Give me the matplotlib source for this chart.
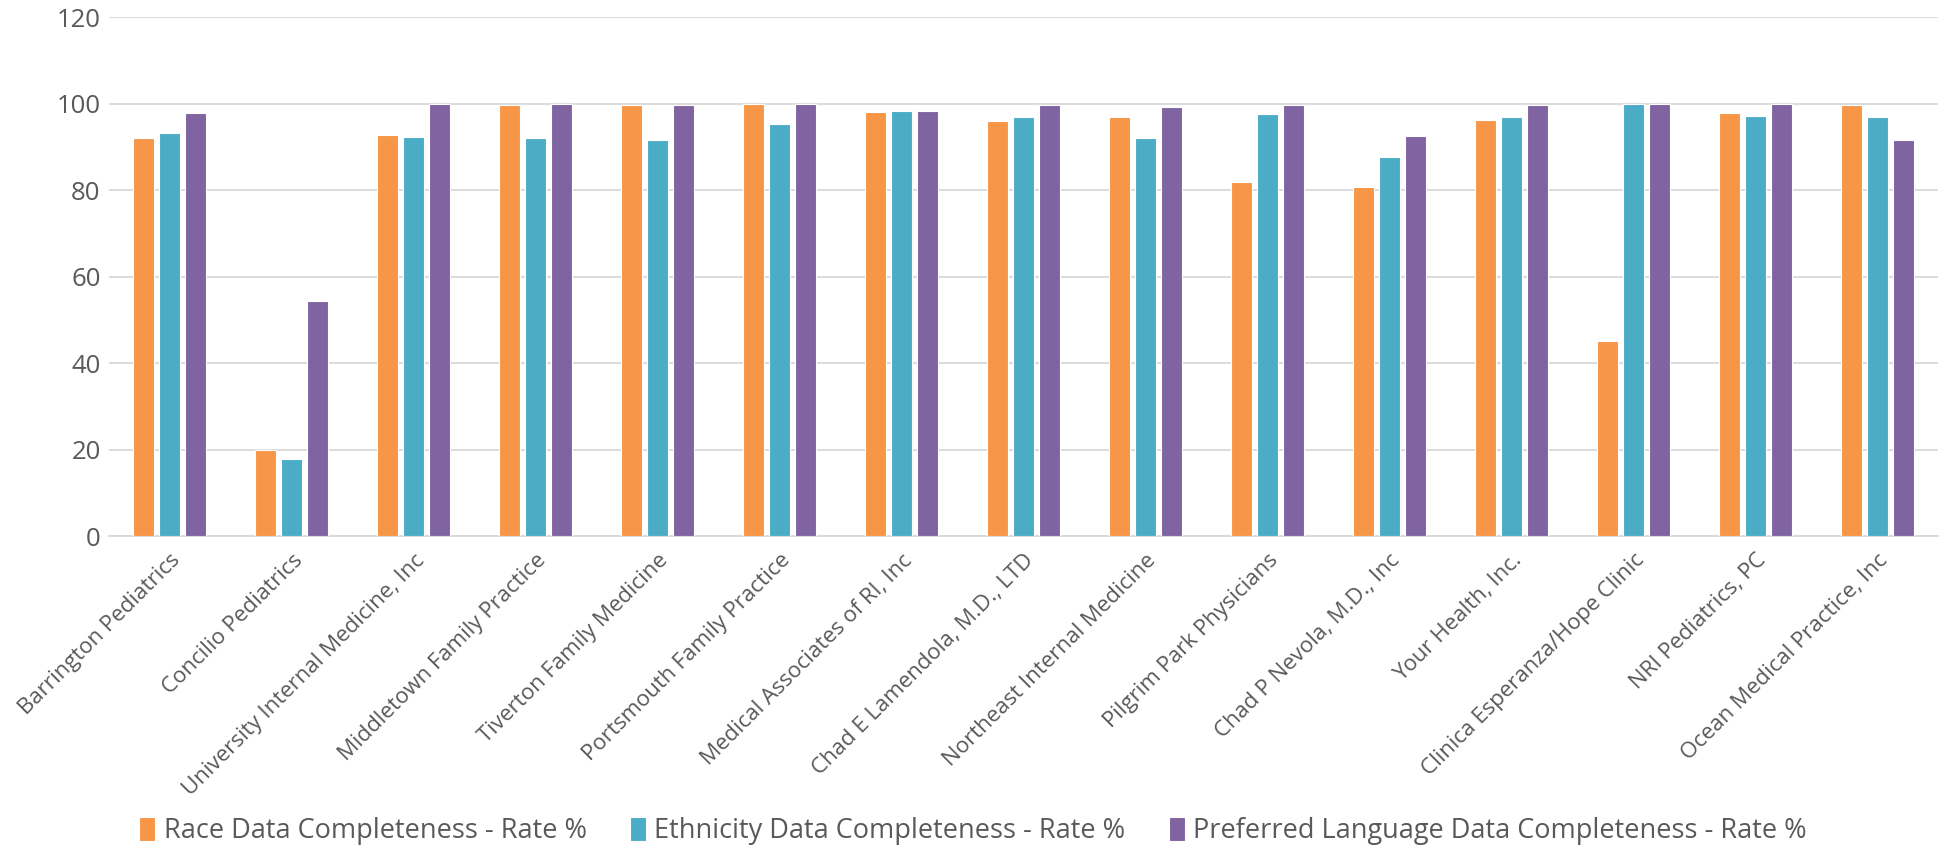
import numpy as np
import matplotlib.pyplot as plt

# practices (x axis)
practices = ["Barrington Pediatrics", "Concilio Pediatrics", "University Internal Medicine, Inc",
             "Middletown Family Practice", "Tiverton Family Medicine", "Portsmouth Family Practice",
             "Medical Associates of RI, Inc", "Chad E Lamendola, M.D., LTD", "Northeast Internal Medicine",
             "Pilgrim Park Physicians", "Chad P Nevola, M.D., Inc", "Your Health, Inc.",
             "Clinica Esperanza/Hope Clinic", "NRI Pediatrics, PC", "Ocean Medical Practice, Inc"]

race = [92.0, 19.8, 92.7, 99.8, 99.8, 100, 98.1, 96.1, 96.8, 81.9, 80.7, 96.3, 45.2, 97.9, 99.8]
ethnicity = [93.1, 17.8, 92.2, 92.0, 91.7, 95.4, 98.2, 97.0, 92.0, 97.6, 87.7, 96.9, 100, 97.2, 96.9]
language = [97.9, 54.4, 100, 100, 99.6, 100, 98.2, 99.8, 99.2, 99.6, 92.5, 99.8, 100, 100, 91.7]

series_names = ["Race Data Completeness - Rate %",
                "Ethnicity Data Completeness - Rate %",
                "Preferred Language Data Completeness - Rate %"]
colors = ["#F79646", "#4BACC6", "#8064A2"]

plt.rcParams['font.family'] = ['Open Sans', 'DejaVu Sans']
txt = "#595959"

fig = plt.figure(figsize=(19.46, 8.59), dpi=100)
ax = fig.add_axes([0.056, 0.376, 0.94, 0.604])

x = np.arange(len(practices))
w = 0.172
step = 0.213
for i, (vals, name, c) in enumerate(zip([race, ethnicity, language], series_names, colors)):
    ax.bar(x + (i - 1) * step, vals, width=w, color=c, edgecolor="white", linewidth=0.8, label=name, zorder=3)

ax.set_xlim(-0.5, len(practices) - 0.5)
ax.set_ylim(0, 120)
ax.set_yticks(range(0, 121, 20))
ax.yaxis.grid(True, color="#D9D9D9", linewidth=1.3, zorder=0)
ax.set_axisbelow(True)
for s in ["top", "right", "left"]:
    ax.spines[s].set_visible(False)
ax.spines["bottom"].set_color("#D9D9D9")
ax.spines["bottom"].set_linewidth(1.3)
ax.tick_params(axis="both", length=0, colors=txt)
ax.tick_params(axis="y", pad=6, labelsize=18.5)

ax.set_xticks(x)
ax.set_xticklabels(practices, rotation=45, ha="right", va="top", rotation_mode="anchor", fontsize=16)
for lab in ax.get_xticklabels():
    lab.set_color(txt)
ax.tick_params(axis="x", pad=10)

leg = fig.legend(loc="lower center", bbox_to_anchor=(0.5, -0.012), ncol=3, frameon=False,
                 fontsize=19.5, handlelength=0.6, handleheight=1.0, handletextpad=0.3, columnspacing=1.6)
for t in leg.get_texts():
    t.set_color(txt)

fig.savefig("out.png", dpi=100)
